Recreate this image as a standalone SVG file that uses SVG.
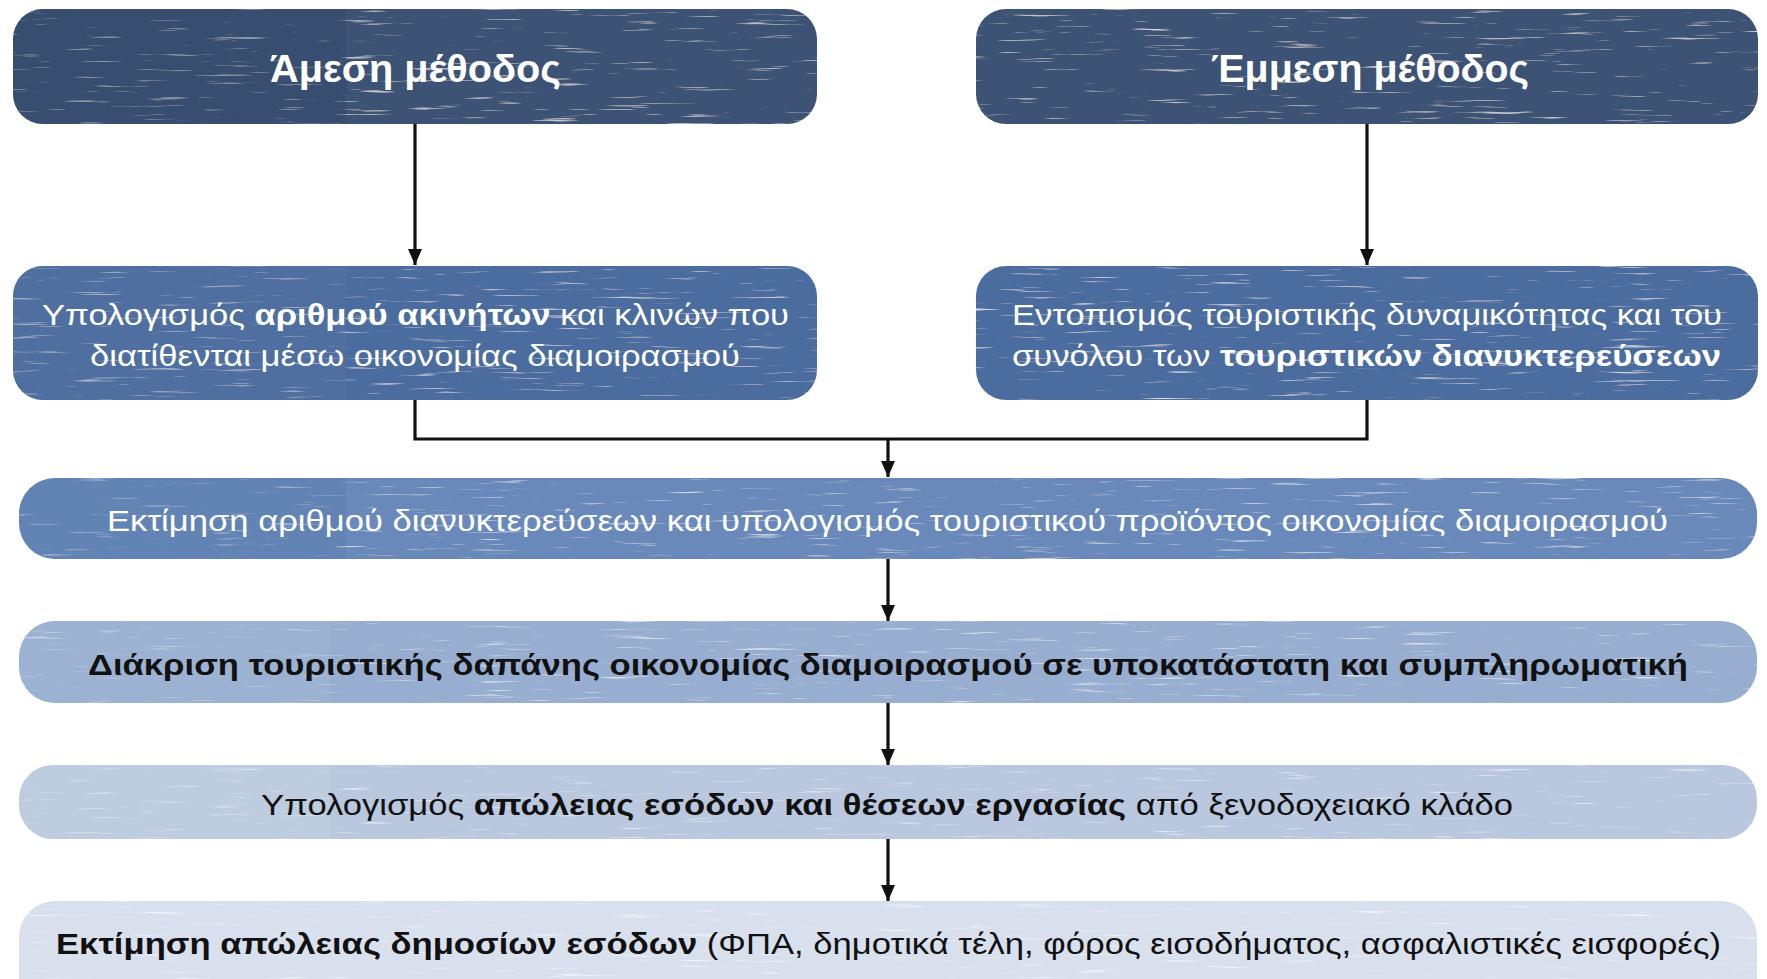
<svg xmlns="http://www.w3.org/2000/svg" width="1767" height="979" viewBox="0 0 1767 979">
  <style>
    .t { font-family: "Liberation Sans", Arial, sans-serif; font-size: 30px; }
    .title { font-family: "Liberation Sans", Arial, sans-serif; font-size: 39px; font-weight: bold; fill: #ffffff; }
    .w { fill: #ffffff; }
    .k { fill: #111111; }
    .b { font-weight: bold; }
    .conn { fill: none; stroke: #111111; stroke-width: 3.2; }
  </style>
  <defs>
    <marker id="arr" markerUnits="userSpaceOnUse" markerWidth="17" markerHeight="16" refX="16" refY="8" orient="auto" viewBox="0 0 17 16">
      <path d="M0,1 L16,8 L0,15 Z" fill="#111111"/>
    </marker>
    <filter id="tex" x="0" y="0" width="100%" height="100%">
      <feTurbulence type="fractalNoise" baseFrequency="0.015 0.35" numOctaves="3" seed="7" result="n"/>
      <feColorMatrix in="n" type="matrix" values="0 0 0 0 1  0 0 0 0 1  0 0 0 0 1  3 0 0 0 -2.02" result="w"/>
      <feComposite in="w" in2="SourceGraphic" operator="in" result="wi"/>
      <feMerge><feMergeNode in="SourceGraphic"/><feMergeNode in="wi"/></feMerge>
    </filter>
  </defs>

  <rect x="0" y="0" width="1767" height="979" fill="#ffffff"/>

  <g id="connectors">
    <line class="conn" x1="415" y1="124" x2="415" y2="265" marker-end="url(#arr)"/>
    <line class="conn" x1="1367" y1="124" x2="1367" y2="265" marker-end="url(#arr)"/>
    <path class="conn" d="M415,400 V439 H1367 V400"/>
    <line class="conn" x1="888" y1="439" x2="888" y2="477" marker-end="url(#arr)"/>
    <line class="conn" x1="888" y1="559" x2="888" y2="621" marker-end="url(#arr)"/>
    <line class="conn" x1="888" y1="703" x2="888" y2="765" marker-end="url(#arr)"/>
    <line class="conn" x1="888" y1="839" x2="888" y2="901" marker-end="url(#arr)"/>
  </g>

  <g id="node-direct">
    <rect x="13" y="9" width="804" height="115" rx="30" fill="#3c5275" filter="url(#tex)"/>
    <path d="M43,9 H346 V124 H43 A30,30 0 0 1 13,94 V39 A30,30 0 0 1 43,9 Z" fill="#2f4468" fill-opacity="0.35"/>
    <text class="title" x="270" y="82" textLength="291" lengthAdjust="spacingAndGlyphs">Άμεση μέθοδος</text>
  </g>

  <g id="node-indirect">
    <rect x="976" y="9" width="782" height="115" rx="30" fill="#3c5275" filter="url(#tex)"/>
    <text class="title" x="1211" y="82" textLength="318" lengthAdjust="spacingAndGlyphs">Έμμεση μέθοδος</text>
  </g>

  <g id="node-properties">
    <rect x="13" y="266" width="804" height="134" rx="30" fill="#4b6c9e" filter="url(#tex)"/>
    <path d="M43,266 H346 V400 H43 A30,30 0 0 1 13,370 V296 A30,30 0 0 1 43,266 Z" fill="#5676a6" fill-opacity="0.3"/>
    <text class="t w" x="42" y="325" textLength="747" lengthAdjust="spacingAndGlyphs">Υπολογισμός <tspan class="b">αριθμού ακινήτων</tspan> και κλινών που</text>
    <text class="t w" x="90" y="366" textLength="650" lengthAdjust="spacingAndGlyphs">διατίθενται μέσω οικονομίας διαμοιρασμού</text>
  </g>

  <g id="node-capacity">
    <rect x="976" y="266" width="782" height="134" rx="30" fill="#4b6c9e" filter="url(#tex)"/>
    <text class="t w" x="1012" y="325" textLength="710" lengthAdjust="spacingAndGlyphs">Εντοπισμός τουριστικής δυναμικότητας και του</text>
    <text class="t w" x="1012" y="366" textLength="709" lengthAdjust="spacingAndGlyphs">συνόλου των <tspan class="b">τουριστικών διανυκτερεύσεων</tspan></text>
  </g>

  <g id="node-nights">
    <rect x="19" y="478" width="1738" height="81" rx="36" fill="#6889b9" filter="url(#tex)"/>
    <path d="M55,478 H346 V559 H55 A36,36 0 0 1 19,523 V514 A36,36 0 0 1 55,478 Z" fill="#5a7bab" fill-opacity="0.35"/>
    <text class="t w" x="107" y="531" textLength="1561" lengthAdjust="spacingAndGlyphs">Εκτίμηση αριθμού διανυκτερεύσεων και υπολογισμός τουριστικού προϊόντος οικονομίας διαμοιρασμού</text>
  </g>

  <g id="node-spending">
    <rect x="19" y="621" width="1738" height="82" rx="36" fill="#97aed0" filter="url(#tex)"/>
    <path d="M55,621 H330 V703 H55 A36,36 0 0 1 19,667 V657 A36,36 0 0 1 55,621 Z" fill="#a5b9d6" fill-opacity="0.35"/>
    <text class="t k b" x="88" y="675" textLength="1600" lengthAdjust="spacingAndGlyphs">Διάκριση τουριστικής δαπάνης οικονομίας διαμοιρασμού σε υποκατάστατη και συμπληρωματική</text>
  </g>

  <g id="node-hotel">
    <rect x="19" y="765" width="1738" height="74" rx="34" fill="#b9c8de" filter="url(#tex)"/>
    <path d="M53,765 H330 V839 H53 A34,34 0 0 1 19,805 V799 A34,34 0 0 1 53,765 Z" fill="#c6d2e4" fill-opacity="0.4"/>
    <text class="t k" x="261" y="815" textLength="1252" lengthAdjust="spacingAndGlyphs">Υπολογισμός <tspan class="b">απώλειας εσόδων και θέσεων εργασίας</tspan> από ξενοδοχειακό κλάδο</text>
  </g>

  <g id="node-public">
    <rect x="19" y="901" width="1738" height="130" rx="36" fill="#d8e0ed" filter="url(#tex)"/>
    <text class="t k" x="56" y="954" textLength="1665" lengthAdjust="spacingAndGlyphs"><tspan class="b">Εκτίμηση απώλειας δημοσίων εσόδων</tspan> (ΦΠΑ, δημοτικά τέλη, φόρος εισοδήματος, ασφαλιστικές εισφορές)</text>
  </g>
</svg>
